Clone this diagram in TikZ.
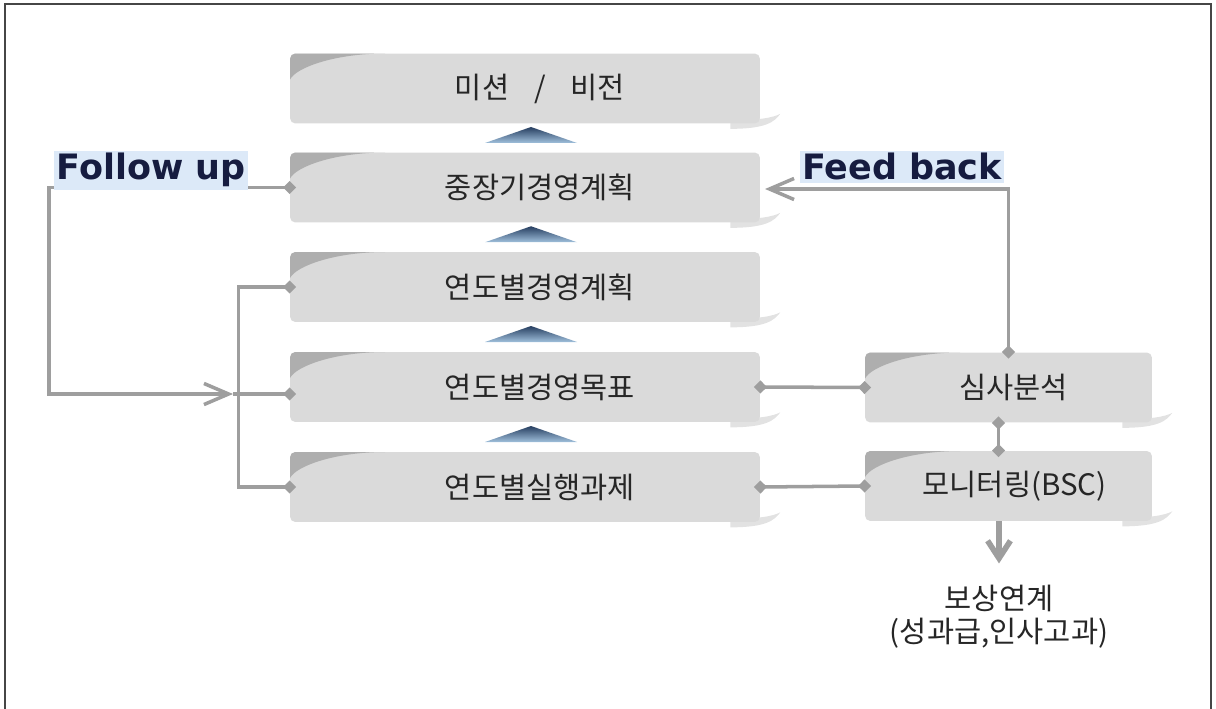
\documentclass[tikz,border=0pt]{standalone}
\usepackage{fontspec}
\setmainfont{Noto Sans CJK KR}
\newfontfamily\tagfont{DejaVu Sans}
\usetikzlibrary{arrows.meta,calc,backgrounds}

\definecolor{boxgray}{RGB}{218,218,218}
\definecolor{wedgegray}{RGB}{174,174,174}
\definecolor{shadegray}{RGB}{226,226,226}
\definecolor{linkgray}{RGB}{158,158,158}
\definecolor{tipdark}{RGB}{38,62,96}
\definecolor{tiplight}{RGB}{160,192,220}
\definecolor{tagblue}{RGB}{22,28,64}
\definecolor{tagglow}{RGB}{220,233,248}
\definecolor{framegray}{RGB}{70,70,70}

\tikzset{
  planbox/.style={rectangle, rounded corners=3pt, fill=boxgray, minimum height=1.4cm, inner sep=0pt,
    path picture={
      \coordinate (w) at (path picture bounding box.north west);
      \fill[wedgegray, sharp corners] (w) -- ($(w)+(95,0)$) .. controls ($(w)+(45,0)$) and ($(w)+(6,14)$) .. ($(w)+(0,26)$) -- cycle;
    }},
  mainbox/.style={planbox, minimum width=9.4cm},
  sidebox/.style={planbox, minimum width=5.74cm},
  boxtext/.style={font=\fontsize{16.8}{18.8}\selectfont, text=black!85},
  tag/.style={font={\tagfont\bfseries\fontsize{19.9}{24}\selectfont}, text=tagblue, fill=tagglow, inner sep=1.5pt},
  link/.style={draw=linkgray, line width=2pt},
  dots/.style={{Diamond[length=7.5pt,width=7.5pt]}-{Diamond[length=7.5pt,width=7.5pt]}, shorten <=-3.7pt, shorten >=-3.7pt},
  barb/.style={{Diamond[length=7.5pt,width=7.5pt]}-{Straight Barb[length=14pt,width=12pt]}, shorten <=-3.7pt},
  payout/.style={draw=linkgray, line width=3.2pt, -{Straight Barb[length=10pt,width=13pt]}}
}

\begin{document}
\begin{tikzpicture}[x=0.02cm, y=-0.02cm]
    \useasboundingbox (0,0) rectangle (1216,709);

    % Frame
    \draw[framegray, line width=1.2pt] (5,4) rectangle (1211,730);

    % Planning boxes
    \node[mainbox, label={[boxtext, xshift=0.3cm]center:미션\hspace{0.5cm}/\hspace{0.5cm}비전}] (mission) at (525,88.5) {};
    \node[mainbox, label={[boxtext, xshift=0.3cm]center:중장기경영계획}] (midplan) at (525,187.5) {};
    \node[mainbox, label={[boxtext, xshift=0.3cm]center:연도별경영계획}] (yearplan) at (525,287) {};
    \node[mainbox, label={[boxtext, xshift=0.3cm]center:연도별경영목표}] (yeargoal) at (525,387) {};
    \node[mainbox, label={[boxtext, xshift=0.3cm]center:연도별실행과제}] (yeartask) at (525,487) {};

    % Review boxes
    \node[sidebox, label={[boxtext, xshift=0.1cm]center:심사분석}] (review) at (1008.5,387.5) {};
    \node[sidebox, label={[boxtext, xshift=0.12cm]center:모니터링(BSC)}] (monitor) at (1008.5,486) {};

    % Reward text
    \node[boxtext, align=center, inner sep=0pt] (reward) at (999,616.5) {보상연계\\(성과급,인사고과)};

    % Shadows under the boxes
    \begin{scope}[on background layer]
      \foreach \bx in {mission,midplan,yearplan,yeargoal,yeartask,review,monitor}
        \fill[shadegray] ($(\bx.south east)+(-30,-3)$) .. controls ($(\bx.south east)+(0,-4)$) and ($(\bx.south east)+(12,-6)$) .. ($(\bx.south east)+(20,-10)$) .. controls ($(\bx.south east)+(14,-2)$) and ($(\bx.south east)+(6,5)$) .. ($(\bx.south east)+(-30,5)$) -- cycle;
    \end{scope}

    % Small triangles between the boxes
    \foreach \up/\dn in {mission/midplan, midplan/yearplan, yearplan/yeargoal, yeargoal/yeartask}
      \shade[top color=tipdark, bottom color=tiplight] ($(\up.south)!0.5!(\dn.north)+(6,-11)$) -- ++(46,16) -- ++(-92,0) -- cycle;

    % Follow up loop
    \coordinate (fucorner) at (49,394);
    \coordinate (futip) at (233,394);
    \draw[link, barb] (midplan.west) -| (fucorner) -- (futip);
    \draw[link, dots] (yearplan.west) -- ++(-51,0) |- (yeartask.west);
    \draw[link, -{Diamond[length=7.5pt,width=7.5pt]}, shorten >=-3.7pt] (futip) -- ([yshift=-0.14cm]yeargoal.west);
    \node[tag, anchor=base] (followup) at (151,180) {Follow up};

    % Feed back loop
    \coordinate (fbtip) at (765,189);
    \draw[link, barb] (review.north) |- (fbtip);
    \node[tag, anchor=base] (feedback) at (902,180) {Feed back};

    % Links to review boxes
    \draw[link, dots] (yeargoal.east) -- (review.west);
    \draw[link, dots] (yeartask.east) -- (monitor.west);
    \draw[link, dots] ([xshift=-0.2cm]review.south) -- ([xshift=-0.2cm]monitor.north);

    % Reward arrow
    \draw[payout, shorten >=12pt] (reward.north |- monitor.south) -- (reward.north);
\end{tikzpicture}
\end{document}
